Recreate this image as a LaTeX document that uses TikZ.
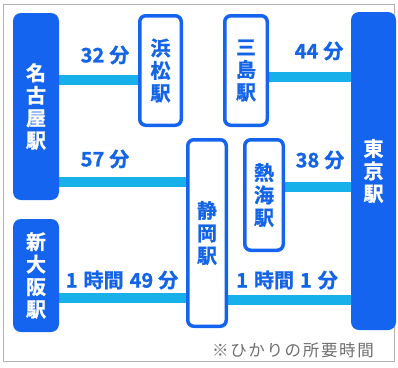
\documentclass[tikz,border=0pt]{standalone}
\usepackage{fontspec}
\newfontfamily\jp{Noto Sans CJK JP}[BoldFont={Noto Sans CJK JP Bold}, BoldFeatures={FakeBold=1.2}]
\usetikzlibrary{backgrounds}
\definecolor{blockblue}{HTML}{1464F0}
\definecolor{textblue}{HTML}{1464E8}
\definecolor{lineblue}{HTML}{18B0EA}
\definecolor{notegray}{HTML}{6E6E6E}
\begin{document}
\begin{tikzpicture}[x=1pt,y=-1pt,
  filledst/.style={fill=blockblue, draw=none, rounded corners=8pt, inner sep=0pt,
     text=white, align=center, font=\jp\bfseries\fontsize{20}{22.5}\selectfont},
  outlinest/.style={fill=white, draw=blockblue, line width=3.5pt, rounded corners=6pt, inner sep=0pt,
     text=textblue, align=center, font=\jp\bfseries\fontsize{20}{22.5}\selectfont},
  conn/.style={draw=lineblue, line width=9.5pt},
  timelbl/.style={text=textblue, inner sep=0pt, font=\jp\bfseries\fontsize{20}{22}\selectfont},
  frame/.style={draw=black!30, line width=1pt}]
\useasboundingbox (0,0) rectangle (398,367);
\node[frame, minimum width=391pt, minimum height=357pt, inner sep=0pt] (fr) at (198.5,182.5) {};
% stations
\node[filledst, minimum width=46pt, minimum height=187pt] (nagoya) at (36,106.5) {名\\古\\屋\\駅};
\node[filledst, minimum width=46pt, minimum height=113pt] (shinosaka) at (36,275.5) {新\\大\\阪\\駅};
\node[filledst, minimum width=45pt, minimum height=318pt] (tokyo) at (373.5,171) {東\\京\\駅};
\node[outlinest, minimum width=41.5pt, minimum height=109.5pt] (hamamatsu) at (160.5,70.5) {浜\\松\\駅};
\node[outlinest, minimum width=42.5pt, minimum height=109.5pt] (mishima) at (246,70.5) {三\\島\\駅};
\node[outlinest, minimum width=38.5pt, minimum height=186.5pt] (shizuoka) at (207,233) {静\\岡\\駅};
\node[outlinest, minimum width=38.5pt, minimum height=110.5pt] (atami) at (264,195) {熱\\海\\駅};
% connectors
\begin{pgfonlayer}{background}
\draw[conn] (nagoya.east |- 0,80) -- (hamamatsu.west |- 0,80);
\draw[conn] (mishima.east |- 0,77) -- (tokyo.west |- 0,77);
\draw[conn] (nagoya.east |- 0,182) -- (shizuoka.west |- 0,182);
\draw[conn] (atami.east |- 0,187) -- (tokyo.west |- 0,187);
\draw[conn] (shinosaka.east |- 0,298) -- (shizuoka.west |- 0,298);
\draw[conn] (shizuoka.east |- 0,300) -- (tokyo.west |- 0,300);
\end{pgfonlayer}
% labels
\node[timelbl] (t32) at (105,55) {32\hspace{5pt}分};
\node[timelbl] (t57) at (105,159) {57\hspace{5pt}分};
\node[timelbl] (t44) at (319,51) {44\hspace{5pt}分};
\node[timelbl] (t38) at (320,160) {38\hspace{5pt}分};
\node[timelbl] (t149) at (122,280) {1\hspace{6pt}時間\hspace{6pt}49\hspace{5pt}分};
\node[timelbl] (t11) at (287,280) {1\hspace{6pt}時間\hspace{6pt}1\hspace{6pt}分};
\node[text=notegray, inner sep=0pt, font=\jp\fontsize{16.5}{18}\selectfont\addfontfeature{LetterSpace=10}] (note) at (293,350) {※ひかりの所要時間};
\end{tikzpicture}
\end{document}
